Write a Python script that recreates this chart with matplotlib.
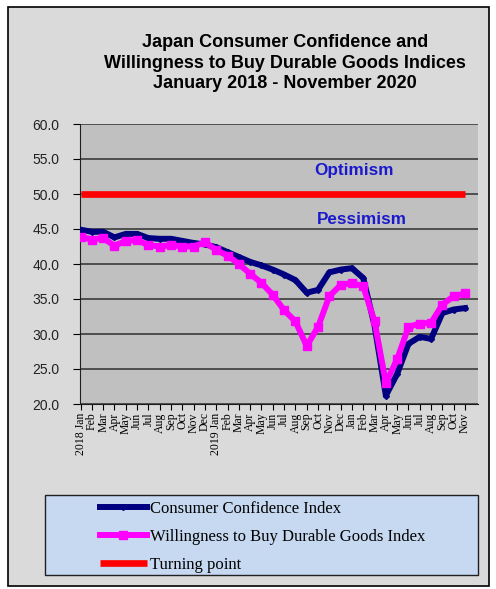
"""
Japan consumer confidence and willingness to buy durable goods,
January 2018 - November 2020.
"""

import matplotlib
matplotlib.use("Agg")
import matplotlib.pyplot as plt
from matplotlib.patches import Rectangle


MONTH_LABELS = [
    "2018 Jan", "Feb", "Mar", "Apr", "May", "Jun", "Jul", "Aug", "Sep", "Oct", "Nov", "Dec",
    "2019 Jan", "Feb", "Mar", "Apr", "May", "Jun", "Jul", "Aug", "Sep", "Oct", "Nov", "Dec",
    "Jan", "Feb", "Mar", "Apr", "May", "Jun", "Jul", "Aug", "Sep", "Oct", "Nov",
]

confidence = [
    44.9, 44.6, 44.6, 43.8, 44.3, 44.3, 43.7, 43.6, 43.6, 43.3, 43.0, 42.8,
    42.4, 41.7, 41.0, 40.3, 39.8, 39.2, 38.5, 37.7, 35.9, 36.3, 38.8, 39.2,
    39.4, 38.0, 31.2, 21.2, 24.3, 28.6, 29.6, 29.3, 33.0, 33.5, 33.7,
]

willingness = [
    43.9, 43.5, 43.7, 42.6, 43.3, 43.4, 42.7, 42.5, 42.7, 42.5, 42.5, 43.1,
    42.0, 41.2, 40.0, 38.6, 37.3, 35.6, 33.4, 31.8, 28.3, 31.0, 35.4, 37.0,
    37.3, 36.8, 31.8, 23.0, 26.4, 31.0, 31.5, 31.6, 34.2, 35.4, 35.8,
]

turning_point = [50.0] * len(MONTH_LABELS)

Y_TICKS = [20, 25, 30, 35, 40, 45, 50, 55, 60]


def draw_chart():
    W, H = 496, 589
    fig = plt.figure(figsize=(W / 100, H / 100), dpi=100)
    fig.patch.set_facecolor("white")

    # chart area frame
    frame = Rectangle((8 / W, 1 - 586 / H), 481 / W, 579 / H,
                      transform=fig.transFigure, facecolor="#dadada",
                      edgecolor="black", lw=1.2)
    frame.set_zorder(-10)
    fig.patches.append(frame)

    ax = fig.add_axes([80 / W, 1 - 404 / H, 398 / W, 280 / H])
    ax.set_zorder(2)
    ax.set_facecolor("#c0c0c0")

    x = list(range(len(MONTH_LABELS)))

    ax.plot(x, turning_point, color="#ff0000", lw=4.8, solid_capstyle="butt",
            label="Turning point", zorder=3)
    ax.plot(x, confidence, color="#000080", lw=4.3, marker="D", markersize=3,
            label="Consumer Confidence Index", zorder=4)
    ax.plot(x, willingness, color="#ff00ff", lw=4.3, marker="s", markersize=6,
            label="Willingness to Buy Durable Goods Index", zorder=5)

    ax.set_xlim(-0.05, 35.15)
    ax.set_ylim(20, 60)
    ax.set_yticks(Y_TICKS)
    ax.set_yticklabels([f"{v:.1f}" for v in Y_TICKS], fontsize=10,
                       family="Liberation Sans", color="#222222")
    ax.yaxis.grid(True, color="#303030", lw=1.1)
    ax.set_axisbelow(True)

    ax.set_xticks(x)
    ax.set_xticklabels(MONTH_LABELS, rotation=90, fontsize=8.5,
                       family="Liberation Serif", va="top", ha="center")
    ax.tick_params(axis="x", length=4, pad=2, direction="out")
    ax.tick_params(axis="y", length=5, pad=10, direction="out")

    for side in ["top", "right"]:
        ax.spines[side].set_visible(False)
    ax.spines["left"].set_color("#202020")
    ax.spines["bottom"].set_color("#202020")

    ax.text(24.2, 53.3, "Optimism", color="#1a1acc", fontsize=12.3,
            fontweight="bold", family="Liberation Sans", ha="center", va="center")
    ax.text(24.9, 46.3, "Pessimism", color="#1a1acc", fontsize=12.3,
            fontweight="bold", family="Liberation Sans", ha="center", va="center")

    fig.text(285 / W, 1 - 63 / H,
             "Japan Consumer Confidence and\n"
             "Willingness to Buy Durable Goods Indices\n"
             "January 2018 - November 2020",
             ha="center", va="center", fontsize=13, fontweight="bold",
             family="Liberation Sans", linespacing=1.3)

    # legend box
    box = Rectangle((45 / W, 1 - 575 / H), 433 / W, 80 / H,
                    transform=fig.transFigure, facecolor="#c6d9f1",
                    edgecolor="#202020", lw=1.0)
    box.set_zorder(-5)
    fig.patches.append(box)
    handles, labels = ax.get_legend_handles_labels()
    order = [1, 2, 0]
    fig.legend([handles[i] for i in order], [labels[i] for i in order],
               loc="upper left", bbox_to_anchor=(100 / W, 1 - 501 / H),
               frameon=False, borderpad=0, borderaxespad=0, numpoints=1,
               handlelength=2.8, handletextpad=0.2, labelspacing=0.72,
               prop={"family": "Liberation Serif", "size": 12})

    fig.savefig("out.png", dpi=100)


if __name__ == "__main__":
    draw_chart()
